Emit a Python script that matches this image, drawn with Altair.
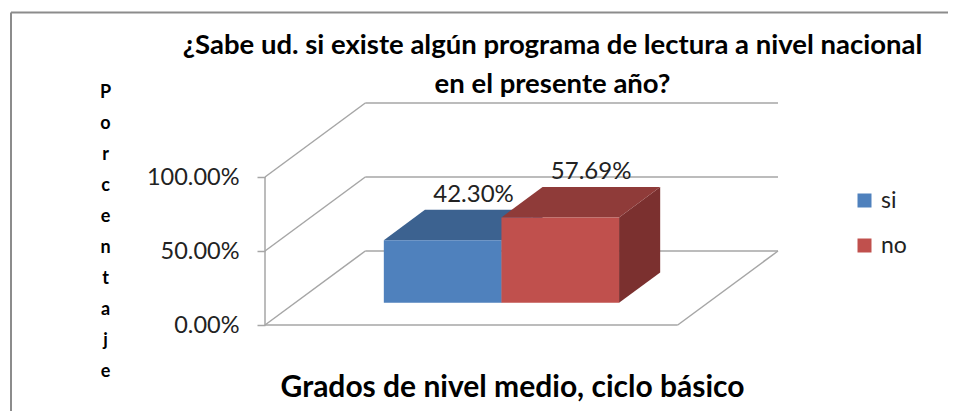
import altair as alt
import pandas as pd

# ---- data ----
categories = ["si", "no"]
values = [42.30, 57.69]
tick_values = [0, 50, 100]
title_lines = ["¿Sabe ud. si existe algún programa de lectura a nivel nacional",
               "en el presente año?"]
x_title = "Grados de nivel medio, ciclo básico"
y_title = "Porcentaje"

front_colors = ["#4F81BD", "#C0504D"]
top_colors = ["#3C6290", "#8F3B39"]
side_colors = ["#355580", "#7B302F"]

# ---- pseudo-3D projection parameters (style) ----
DX = 0.243      # depth shift in x units (category width = 1)
DY = 50.0       # depth shift in y units (percent)
F0, F1 = 0.30, 0.71   # bar depth range as fraction of full depth
BAR_W = 0.285
CENTER = 0.5
FONT = "Lato"

# wall / floor lines
wall_rows = []
for t in tick_values:
    wall_rows.append(dict(x=DX, x2=1 + DX, y=t + DY, y2=t + DY))   # back wall gridline
    wall_rows.append(dict(x=0, x2=DX, y=t, y2=t + DY))             # left wall line
wall_rows.append(dict(x=0, x2=1, y=0, y2=0))            # floor front edge
wall_rows.append(dict(x=1, x2=1 + DX, y=0, y2=DY))      # floor right edge
wall_rows.append(dict(x=0, x2=0, y=0, y2=max(tick_values)))  # vertical axis line
walls = pd.DataFrame(wall_rows)

front_rows, top_rows, side_rows, label_rows = [], [], [], []
for i, (c, v) in enumerate(zip(categories, values)):
    x0 = CENTER - BAR_W + i * BAR_W
    x1 = x0 + BAR_W
    front_rows.append(dict(series=c, x=x0 + F0 * DX, x2=x1 + F0 * DX,
                           y=F0 * DY, y2=v + F0 * DY))
    for f in (F0, F1):
        top_rows.append(dict(series=c, color=top_colors[i], y=v + f * DY,
                             xa=x0 + f * DX, xb=x1 + f * DX))
        side_rows.append(dict(series=c, color=side_colors[i], x=x1 + f * DX,
                              ya=f * DY, yb=v + f * DY))
    fm = (F0 + F1) / 2
    label_rows.append(dict(series=c, x=(x0 + x1) / 2 + fm * DX + 0.025,
                           y=v + F1 * DY, text=f"{v:.2f}%"))
front = pd.DataFrame(front_rows)
top = pd.DataFrame(top_rows)
side = pd.DataFrame(side_rows)
labels = pd.DataFrame(label_rows)

xscale = alt.Scale(domain=[0, 1 + DX], nice=False, zero=False)
yscale = alt.Scale(domain=[0, max(tick_values) + DY], nice=False, zero=False)
grid_color = "#A6A6A6"

walls_layer = alt.Chart(walls).mark_rule(color=grid_color, strokeWidth=1.5).encode(
    x=alt.X("x:Q", scale=xscale,
            axis=alt.Axis(title=x_title, labels=False, ticks=False, domain=False,
                          grid=False, titleFont=FONT, titleFontSize=30,
                          titleFontWeight="bold", titleColor="black",
                          titleX=247, titleY=62, titleBaseline="middle",
                          titleAlign="center")),
    x2="x2:Q",
    y=alt.Y("y:Q", scale=yscale,
            axis=alt.Axis(values=tick_values, labelExpr="format(datum.value/100, '.2%')",
                          domain=False, grid=False, tickSize=8, tickColor=grid_color,
                          tickWidth=1.5, labelPadding=18, labelFont=FONT,
                          labelFontSize=23.5, labelColor="#222",
                          title=list(y_title), titleAngle=0, titleFont=FONT,
                          titleFontSize=18, titleFontWeight="bold", titleColor="black",
                          titleX=-160, titleY=-11, titleBaseline="middle",
                          titleAlign="center", titleLineHeight=31)),
    y2="y2:Q",
)

side_layer = alt.Chart(side).mark_area(orient="vertical").encode(
    x=alt.X("x:Q", scale=xscale, axis=None),
    y=alt.Y("ya:Q", scale=yscale, axis=None),
    y2="yb:Q",
    detail="series:N",
    color=alt.Color("color:N", scale=None),
)

top_layer = alt.Chart(top).mark_area(orient="horizontal").encode(
    y=alt.Y("y:Q", scale=yscale, axis=None),
    x=alt.X("xa:Q", scale=xscale, axis=None),
    x2="xb:Q",
    detail="series:N",
    color=alt.Color("color:N", scale=None),
)

front_layer = alt.Chart(front).mark_rect().encode(
    x=alt.X("x:Q", scale=xscale, axis=None),
    x2="x2:Q",
    y=alt.Y("y:Q", scale=yscale, axis=None),
    y2="y2:Q",
    color=alt.Color("series:N",
                    scale=alt.Scale(domain=categories, range=front_colors),
                    legend=alt.Legend(title=None, orient="none", legendX=588,
                                      legendY=86, symbolType="square",
                                      symbolSize=196, symbolStrokeWidth=0,
                                      labelFont=FONT, labelFontSize=23,
                                      labelColor="#222", labelOffset=5,
                                      rowPadding=21, padding=0)),
)

label_layer = alt.Chart(labels).mark_text(font=FONT, fontSize=24, color="#222",
                                          baseline="bottom", dy=-3).encode(
    x=alt.X("x:Q", scale=xscale, axis=None),
    y=alt.Y("y:Q", scale=yscale, axis=None),
    text="text:N",
)

border_df = pd.DataFrame({"k": [0]})
border = alt.Chart(border_df).mark_rule(color="#8C8C8C", strokeWidth=2).encode(
    x=alt.value(-254), x2=alt.value(700), y=alt.value(-90.5), y2=alt.value(-90.5))
border_l = alt.Chart(border_df).mark_rule(color="#8C8C8C", strokeWidth=2).encode(
    x=alt.value(-254), x2=alt.value(-254), y=alt.value(-90.5), y2=alt.value(330))

chart = alt.layer(walls_layer, side_layer, top_layer, front_layer, label_layer,
                  border, border_l).resolve_axis(
    x="independent", y="independent"
).properties(
    width=513, height=222,
    padding={"left": 257, "top": 95, "right": 170, "bottom": 86},
    autosize=alt.AutoSizeParams(type="none"),
    title=alt.TitleParams(text=title_lines, font=FONT, fontSize=27.5, fontWeight="bold",
                          color="black", anchor="middle", frame="group", dx=31,
                          offset=0, dy=109, baseline="alphabetic", lineHeight=39),
).configure(background="white").configure_view(stroke=None)

chart.save("out.html", embed_options={"renderer": "svg", "actions": False})
